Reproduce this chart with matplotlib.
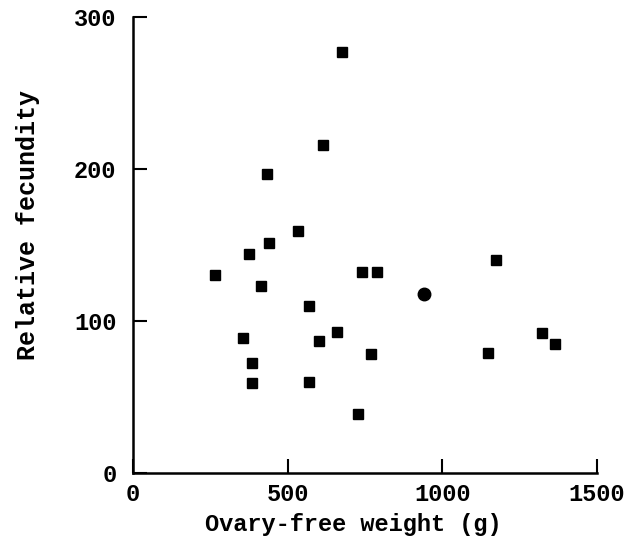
import matplotlib
matplotlib.use("Agg")
import matplotlib.pyplot as plt

# Data (squares)
weight_sq = [265, 374, 439, 413, 432, 613, 677, 535, 739, 790, 1174, 568, 355,
             600, 661, 768, 384, 384, 568, 726, 1148, 1323, 1365]
fecund_sq = [130, 144, 151, 123, 197, 216, 277, 159, 132, 132, 140, 110, 89,
             87, 93, 78, 72, 59, 60, 39, 79, 92, 85]
# Data (circle)
weight_ci = [942]
fecund_ci = [118]

xticks = [0, 500, 1000, 1500]
yticks = [0, 100, 200, 300]

plt.rcParams['font.family'] = ['Liberation Mono', 'DejaVu Sans Mono']

fig = plt.figure(figsize=(6.38, 5.48), dpi=100)
ax = fig.add_axes([0.2085, 0.137, 0.727, 0.832])

ax.plot(weight_sq, fecund_sq, linestyle='none', marker='s', ms=6.5, color='black')
ax.plot(weight_ci, fecund_ci, linestyle='none', marker='o', ms=9, color='black')

ax.set_xlim(0, 1500)
ax.set_ylim(0, 300)
ax.set_xticks(xticks)
ax.set_yticks(yticks)
ax.set_xticklabels([str(t) for t in xticks], fontsize=17, fontweight='bold')
ax.set_yticklabels([str(t) for t in yticks], fontsize=17, fontweight='bold')
ax.tick_params(direction='in', length=10, width=1.5)
ax.tick_params(axis='x', pad=7)
ax.tick_params(axis='y', pad=12)
for s in ['top', 'right']:
    ax.spines[s].set_visible(False)
for s in ['left', 'bottom']:
    ax.spines[s].set_linewidth(1.8)

ax.set_xlabel('Ovary-free weight (g)', fontsize=17, fontweight='bold', va='center')
ax.xaxis.set_label_coords(0.476, -0.114)
ax.set_ylabel('Relative fecundity', fontsize=18, fontweight='bold', va='center')
ax.yaxis.set_label_coords(-0.226, 0.544)

fig.savefig('out.png', dpi=100)
